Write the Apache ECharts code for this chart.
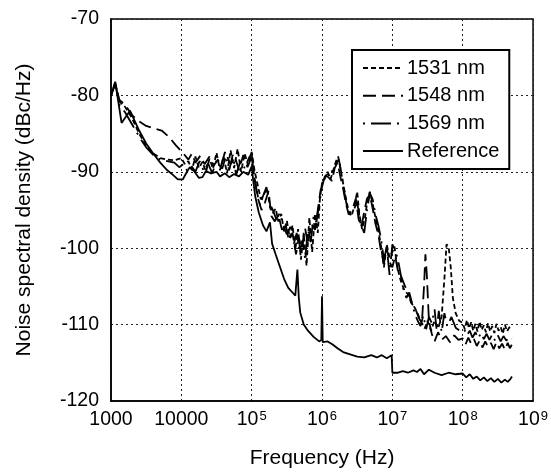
<!DOCTYPE html>
<html>
<head>
<meta charset="utf-8">
<script src="https://cdn.jsdelivr.net/npm/echarts@6/dist/echarts.min.js"></script>
<style>
html,body{margin:0;padding:0;background:#fff;}
#chart{width:551px;height:474px;}
</style>
</head>
<body>
<div id="chart"></div>
<script>
// Frequencies are given as decade exponents (log10 of Hz), values in dBc/Hz
const seriesNames = ['1531 nm', '1548 nm', '1569 nm', 'Reference'];
const xTickExps = [3, 4, 5, 6, 7, 8, 9];
const yTicks = [-120, -110, -100, -90, -80, -70];

const exp1531 = [3.00,3.06,3.12,3.20,3.30,3.40,3.50,3.60,3.70,3.80,3.90,4.00,4.05,4.10,4.15,4.20,4.25,4.30,4.35,4.40,4.45,4.50,4.55,4.60,4.65,4.70,4.75,4.80,4.85,4.90,4.95,5.00,5.04,5.08,5.13,5.17,5.22,5.26,5.30,5.34,5.38,5.42,5.46,5.50,5.54,5.58,5.62,5.66,5.70,5.74,5.78,5.82,5.86,5.90,5.94,5.97,6.00,6.04,6.08,6.12,6.16,6.20,6.23,6.26,6.30,6.34,6.38,6.42,6.46,6.50,6.53,6.57,6.61,6.65,6.68,6.72,6.76,6.80,6.84,6.88,6.92,6.96,7.00,7.03,7.07,7.12,7.17,7.22,7.27,7.32,7.37,7.42,7.46,7.50,7.55,7.60,7.65,7.70,7.74,7.77,7.80,7.83,7.86,7.90,7.95,8.00,8.03,8.06,8.09,8.12,8.15,8.18,8.21,8.24,8.27,8.30,8.33,8.36,8.39,8.42,8.45,8.48,8.51,8.54,8.57,8.60,8.63,8.66,8.70];
const val1531 = [-80.0,-78.3,-80.8,-81.5,-83.0,-85.0,-86.6,-87.6,-88.2,-88.4,-88.5,-88.2,-89.0,-88.6,-89.8,-88.0,-89.5,-88.7,-90.0,-88.3,-89.6,-87.5,-89.8,-88.0,-90.2,-87.2,-89.5,-87.0,-90.0,-87.6,-89.2,-87.4,-89.8,-91.5,-93.6,-93.0,-92.2,-94.6,-95.4,-94.8,-96.5,-95.5,-97.8,-96.4,-98.6,-97.0,-100.2,-97.5,-101.5,-98.0,-102.3,-96.0,-100.5,-95.5,-98.0,-93.5,-91.5,-90.8,-90.0,-91.0,-89.8,-88.6,-88.0,-89.5,-91.5,-93.5,-95.2,-95.8,-94.5,-92.6,-95.5,-97.5,-96.0,-93.5,-92.6,-94.2,-96.0,-97.6,-99.8,-102.5,-99.5,-101.2,-100.5,-99.8,-102.5,-104.3,-105.5,-106.0,-107.2,-107.8,-108.8,-109.8,-110.5,-109.5,-110.8,-109.5,-110.5,-109.0,-104.0,-99.5,-99.8,-102.5,-106.5,-108.5,-109.5,-109.8,-110.6,-109.4,-110.5,-109.7,-110.8,-109.9,-110.9,-109.6,-110.7,-110.1,-111.0,-109.8,-110.9,-110.2,-111.1,-109.9,-110.8,-110.3,-111.2,-110.0,-110.9,-110.4,-110.2];

const exp1548 = [3.00,3.06,3.12,3.20,3.30,3.40,3.50,3.60,3.72,3.82,3.92,4.02,4.10,4.15,4.20,4.27,4.33,4.40,4.46,4.52,4.58,4.64,4.70,4.76,4.82,4.88,4.94,5.00,5.04,5.09,5.14,5.19,5.24,5.28,5.33,5.38,5.43,5.48,5.53,5.58,5.63,5.67,5.71,5.76,5.80,5.85,5.90,5.94,5.98,6.02,6.06,6.10,6.14,6.18,6.22,6.26,6.30,6.34,6.38,6.43,6.48,6.52,6.56,6.60,6.64,6.68,6.72,6.76,6.80,6.84,6.88,6.92,6.96,7.00,7.04,7.08,7.13,7.18,7.23,7.28,7.33,7.38,7.42,7.45,7.47,7.49,7.52,7.56,7.60,7.65,7.70,7.76,7.82,7.88,7.94,8.00,8.04,8.08,8.12,8.16,8.20,8.24,8.28,8.32,8.36,8.40,8.44,8.48,8.52,8.56,8.60,8.64,8.67,8.70];
const val1548 = [-80.0,-78.6,-80.6,-81.2,-82.6,-83.4,-84.0,-84.3,-84.6,-85.4,-86.5,-87.5,-88.4,-87.6,-88.8,-87.9,-89.0,-88.0,-89.2,-88.4,-89.6,-87.8,-89.0,-88.0,-89.8,-87.8,-89.4,-88.0,-90.8,-93.5,-95.0,-94.0,-92.5,-95.8,-96.5,-95.6,-97.6,-96.8,-99.0,-98.0,-100.8,-98.6,-100.0,-97.4,-99.5,-96.8,-97.6,-95.0,-92.4,-91.2,-90.5,-90.8,-91.2,-89.5,-88.8,-90.6,-92.2,-94.2,-95.6,-95.0,-93.5,-96.2,-97.2,-95.2,-93.5,-93.0,-94.8,-96.8,-98.2,-100.5,-102.0,-100.0,-101.8,-102.5,-101.0,-103.0,-103.8,-105.0,-105.8,-107.3,-108.0,-109.2,-109.8,-105.0,-100.8,-103.5,-109.5,-111.2,-112.2,-111.0,-112.0,-111.5,-112.3,-111.4,-112.0,-111.8,-112.6,-111.7,-112.5,-111.9,-112.8,-112.1,-113.0,-112.2,-112.9,-112.4,-113.2,-112.3,-113.1,-112.5,-113.3,-112.4,-113.1,-112.6];

const exp1569 = [3.00,3.06,3.12,3.20,3.30,3.40,3.50,3.60,3.70,3.80,3.90,3.97,4.03,4.08,4.14,4.20,4.26,4.32,4.38,4.44,4.50,4.56,4.62,4.68,4.73,4.78,4.84,4.90,4.96,5.00,5.03,5.07,5.12,5.16,5.21,5.25,5.30,5.35,5.40,5.45,5.50,5.55,5.60,5.64,5.68,5.72,5.76,5.80,5.84,5.88,5.92,5.96,6.00,6.04,6.08,6.12,6.16,6.20,6.24,6.28,6.32,6.36,6.40,6.45,6.50,6.55,6.60,6.64,6.68,6.72,6.76,6.80,6.84,6.88,6.92,6.96,7.00,7.04,7.08,7.12,7.16,7.20,7.24,7.28,7.32,7.36,7.40,7.44,7.48,7.52,7.56,7.60,7.63,7.66,7.70,7.74,7.78,7.84,7.90,7.96,8.02,8.06,8.10,8.14,8.18,8.22,8.26,8.30,8.34,8.38,8.42,8.46,8.50,8.54,8.58,8.62,8.66,8.70];
const val1569 = [-80.0,-78.4,-81.2,-82.2,-83.8,-85.4,-86.8,-87.8,-88.4,-88.6,-88.8,-89.4,-89.0,-89.8,-89.2,-90.0,-88.6,-89.9,-88.9,-90.2,-88.5,-89.4,-87.4,-89.8,-87.8,-90.4,-88.6,-89.5,-88.2,-87.6,-90.2,-92.5,-94.4,-93.2,-92.0,-94.0,-95.0,-96.2,-95.4,-97.0,-98.2,-97.2,-99.4,-98.0,-100.6,-99.0,-101.4,-97.6,-99.2,-95.8,-96.6,-94.2,-92.0,-90.6,-90.3,-90.6,-89.4,-88.9,-88.4,-90.4,-92.8,-94.8,-95.4,-95.0,-94.0,-96.8,-98.0,-95.0,-92.8,-93.6,-95.6,-97.0,-98.8,-101.5,-99.8,-103.5,-99.5,-100.2,-101.5,-103.5,-105.5,-106.5,-105.8,-107.2,-108.6,-109.5,-110.2,-108.8,-110.6,-109.0,-109.8,-108.0,-110.8,-108.2,-111.0,-108.5,-110.2,-109.0,-110.4,-110.8,-110.6,-111.4,-110.8,-111.7,-111.0,-111.8,-111.1,-111.9,-111.2,-112.0,-111.3,-112.1,-111.4,-112.2,-111.5,-112.1,-111.6,-111.8];

const expRef = [3.00,3.06,3.15,3.27,3.33,3.40,3.50,3.60,3.70,3.80,3.88,3.95,4.02,4.08,4.12,4.18,4.25,4.30,4.35,4.42,4.50,4.55,4.62,4.68,4.75,4.82,4.88,4.95,5.00,5.02,5.05,5.10,5.16,5.21,5.26,5.29,5.34,5.40,5.46,5.52,5.58,5.62,5.65,5.67,5.69,5.74,5.80,5.88,5.96,5.99,6.00,6.01,6.08,6.15,6.22,6.30,6.40,6.50,6.60,6.70,6.78,6.85,6.92,6.99,7.00,7.08,7.15,7.22,7.30,7.35,7.40,7.45,7.52,7.60,7.70,7.80,7.90,8.00,8.05,8.10,8.15,8.20,8.25,8.30,8.35,8.40,8.45,8.50,8.55,8.60,8.64,8.68,8.70];
const valRef = [-80.0,-78.2,-83.6,-82.0,-83.2,-84.6,-86.3,-87.6,-88.8,-89.8,-90.4,-91.0,-91.0,-90.0,-89.4,-89.9,-90.8,-90.7,-89.9,-90.2,-90.0,-90.6,-90.2,-90.7,-90.3,-90.6,-90.0,-90.4,-89.3,-91.0,-93.2,-95.3,-97.0,-97.8,-96.6,-99.4,-100.8,-102.4,-104.0,-105.2,-105.8,-106.2,-102.8,-106.5,-108.4,-110.0,-110.8,-111.6,-112.2,-112.0,-106.3,-112.3,-112.2,-112.6,-113.1,-113.6,-113.9,-114.2,-114.3,-114.0,-114.3,-114.0,-114.4,-114.0,-116.3,-116.3,-116.1,-116.3,-116.0,-116.2,-115.8,-116.5,-115.9,-116.3,-116.6,-116.3,-116.5,-116.4,-116.9,-116.5,-117.1,-116.8,-117.3,-116.9,-117.4,-117.0,-117.5,-117.1,-117.6,-117.2,-117.5,-117.1,-116.8];

function pairs(exps, vals) { return exps.map((e, i) => [Math.pow(10, e), vals[i]]); }

const font = 'Liberation Sans, Arial, Helvetica, sans-serif';
const chart = echarts.init(document.getElementById('chart'), null, {renderer: 'canvas'});

const mk = (name, exps, vals, dash) => ({
  name: name, type: 'line', data: pairs(exps, vals), symbol: 'none', showSymbol: false,
  lineStyle: {color: '#000', width: 1.8, type: dash}, itemStyle: {color: '#000'},
  animation: false, silent: true
});

chart.setOption({
  animation: false,
  backgroundColor: '#fff',
  grid: {left: 111, top: 19, width: 424, height: 384, show: true, borderColor: '#000', borderWidth: 1.5, backgroundColor: 'transparent'},
  xAxis: {
    type: 'log', logBase: 10, min: 1000, max: 1e9, interval: 1,
    name: 'Frequency (Hz)', nameLocation: 'middle', nameGap: 47,
    nameTextStyle: {fontFamily: font, fontSize: 21, color: '#000'},
    axisLine: {show: true, lineStyle: {color: '#000', width: 1.5}},
    axisTick: {show: false},
    minorTick: {show: false},
    splitLine: {show: true, lineStyle: {color: '#222', width: 1, type: [2, 3]}},
    axisLabel: {
      margin: 9, color: '#000', fontFamily: font, fontSize: 19.5,
      formatter: function (v) {
        const e = Math.round(Math.log10(v));
        if (e <= 4) return '{b|' + Math.round(v) + '}';
        return '{b|10}{s|' + e + '}';
      },
      rich: {
        b: {fontFamily: font, fontSize: 19.5, color: '#000', lineHeight: 19.5, padding: [5, 0, 0, 0], verticalAlign: 'bottom'},
        s: {fontFamily: font, fontSize: 13, color: '#000', lineHeight: 13, verticalAlign: 'top', padding: [0, 0, 0, 1]}
      }
    }
  },
  yAxis: {
    type: 'value', min: -120, max: -70, interval: 10,
    name: 'Noise spectral density (dBc/Hz)', nameLocation: 'middle', nameGap: 76,
    nameTextStyle: {fontFamily: font, fontSize: 21, color: '#000'},
    axisLine: {show: true, lineStyle: {color: '#000', width: 1.5}},
    axisTick: {show: false},
    splitLine: {show: true, lineStyle: {color: '#222', width: 1, type: [2, 3]}},
    axisLabel: {margin: 12, color: '#000', fontFamily: font, fontSize: 19.5,
      formatter: function (v) { return yTicks.indexOf(v) >= 0 ? String(v) : ''; }}
  },
  legend: {
    show: true, orient: 'vertical', left: 352, top: 50,
    data: seriesNames,
    itemWidth: 40, itemHeight: 18, itemGap: 7.7,
    padding: [8, 10, 8, 10],
    backgroundColor: '#fff', borderColor: '#000', borderWidth: 2,
    itemStyle: {opacity: 0},
    lineStyle: {width: 2},
    textStyle: {fontFamily: font, fontSize: 20, color: '#000', padding: [0, 0, 0, -1]},
    selectedMode: false
  },
  series: [
    mk(seriesNames[0], exp1531, val1531, [5, 3]),
    mk(seriesNames[1], exp1548, val1548, [13, 6]),
    mk(seriesNames[2], exp1569, val1569, [2, 6, 20, 6]),
    mk(seriesNames[3], expRef, valRef, 'solid')
  ]
});
</script>
</body>
</html>
